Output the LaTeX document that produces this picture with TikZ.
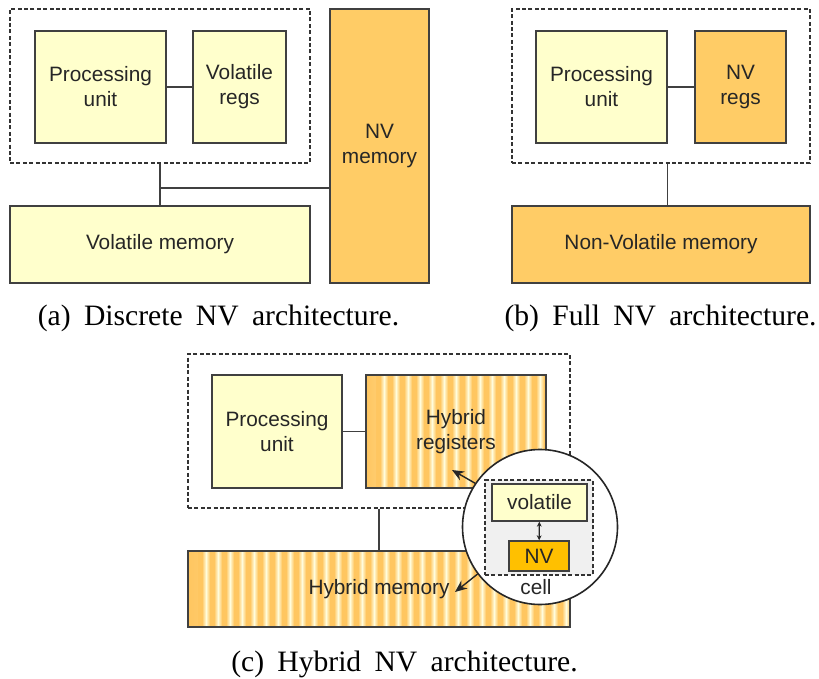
\documentclass[tikz,border=0pt]{standalone}
\usepackage{fontspec}
\setsansfont{Liberation Sans}
\newfontfamily\capfont{Liberation Serif}
\usetikzlibrary{arrows.meta}
\definecolor{LightYel}{HTML}{FFFFCC}
\definecolor{Peach}{HTML}{FFCC66}
\definecolor{Amber}{HTML}{FFC000}
\definecolor{Edge}{HTML}{404040}
\definecolor{StripeLt}{HTML}{FFFCDC}
\definecolor{StripeOr}{HTML}{FFC660}
\newcommand\capsize{\capfont\fontsize{14.8}{17}\selectfont\spaceskip=0.45em\relax}

\begin{document}
\begin{tikzpicture}[x=0.5pt, y=-0.5pt,
		block/.style={draw=Edge, line width=0.7pt, align=center, inner sep=0pt,
			font=\sffamily\fontsize{10.4}{12.5}\selectfont, text=black!85},
		group/.style={draw=black!80, dash pattern=on 2pt off 1.2pt, line width=0.55pt, inner sep=0pt},
		hybrid/.style={block, fill=StripeOr, path picture={
			\foreach \k in {0,...,33}
				\shade[left color=StripeOr, right color=StripeOr, middle color=StripeLt]
					([xshift=\k*6pt+1pt]path picture bounding box.south west) rectangle ++(4pt,120pt);
		}},
		link/.style={draw=Edge, line width=0.6pt},
		pointer/.style={draw=black!85, line width=0.7pt, -{Stealth[length=6pt,width=5pt]}},
		caption/.style={anchor=base, font=\capsize}]

	\useasboundingbox (0,0) rectangle (819,679);

	\node[group, minimum width=150pt, minimum height=77pt] (grpA) at (160,86) {};
	\node[block, fill=LightYel, minimum width=65.5pt, minimum height=56pt] (puA) at (100.5,87) {Processing\\unit};
	\node[block, fill=LightYel, minimum width=46.5pt, minimum height=56pt] (regA) at (239.5,87) {Volatile\\regs};
	\node[block, fill=Peach, minimum width=49.5pt, minimum height=137pt] (nvmA) at (379.5,146) {NV\\memory};
	\node[block, fill=LightYel, minimum width=150pt, minimum height=38.5pt] (vmA) at (160,244.5) {Volatile memory};
	\coordinate (busA) at (160,188);
	\draw[link] (puA) -- (regA);
	\draw[link] (grpA.south) -- (vmA.north);
	\draw[link] (busA) -- (busA -| nvmA.west);
	\node[caption] (capA) at (218.5,325) {(a) Discrete NV architecture.};

	\node[group, minimum width=149pt, minimum height=77pt] (grpB) at (661,86) {};
	\node[block, fill=LightYel, minimum width=65.5pt, minimum height=56pt] (puB) at (601.5,87) {Processing\\unit};
	\node[block, fill=Peach, minimum width=45.5pt, minimum height=56pt] (regB) at (740.5,87) {NV\\regs};
	\node[block, fill=Peach, minimum width=149pt, minimum height=38.5pt] (nvmB) at (661,244.5) {Non-Volatile memory};
	\draw[link] (puB) -- (regB);
	\draw[link] (grpB.south -| puB.east) -- (nvmB.north -| puB.east);
	\node[caption] (capB) at (660.5,325) {(b) Full NV architecture.};

	\node[group, minimum width=191pt, minimum height=77pt] (grpC) at (379,431) {};
	\node[block, fill=LightYel, minimum width=65pt, minimum height=56.5pt] (puC) at (277,431.5) {Processing\\unit};
	\node[hybrid, minimum width=90pt, minimum height=56.5pt] (regC) at (456,431.5) {Hybrid\\registers};
	\node[hybrid, minimum width=191pt, minimum height=38pt] (memC) at (379,589) {Hybrid memory};
	\draw[link] (puC) -- (regC);
	\draw[link] (grpC.south) -- (memC.north);
	\node[circle, draw=black!85, line width=0.8pt, fill=white, minimum size=77.5pt, inner sep=0pt] (zoomC) at (540,527) {};
	\node[group, fill=black!6, minimum width=54pt, minimum height=47.5pt] (cell) at (539,527.5) {};
	\node[block, fill=LightYel, minimum width=47.5pt, minimum height=18.5pt] (vol) at (539.5,502.5) {volatile};
	\node[block, fill=Amber, minimum width=30pt, minimum height=15pt] (nv) at (539,556) {NV};
	\node[font=\sffamily\fontsize{10.4}{12.5}\selectfont, text=black!85, inner sep=0pt] (cellLbl) at (536,587) {cell};
	\draw[link, draw=black!85, {Stealth[length=2.5pt,width=2.4pt]}-{Stealth[length=2.5pt,width=2.4pt]}] (vol) -- (nv);
	\coordinate (regTip) at (452,470);
	\coordinate (memTip) at (455,592);
	\draw[pointer] (zoomC.146) -- (regTip);
	\draw[pointer] (zoomC.217) -- (memTip);
	\node[caption] (capC) at (404.5,671) {(c) Hybrid NV architecture.};

\end{tikzpicture}
\end{document}
